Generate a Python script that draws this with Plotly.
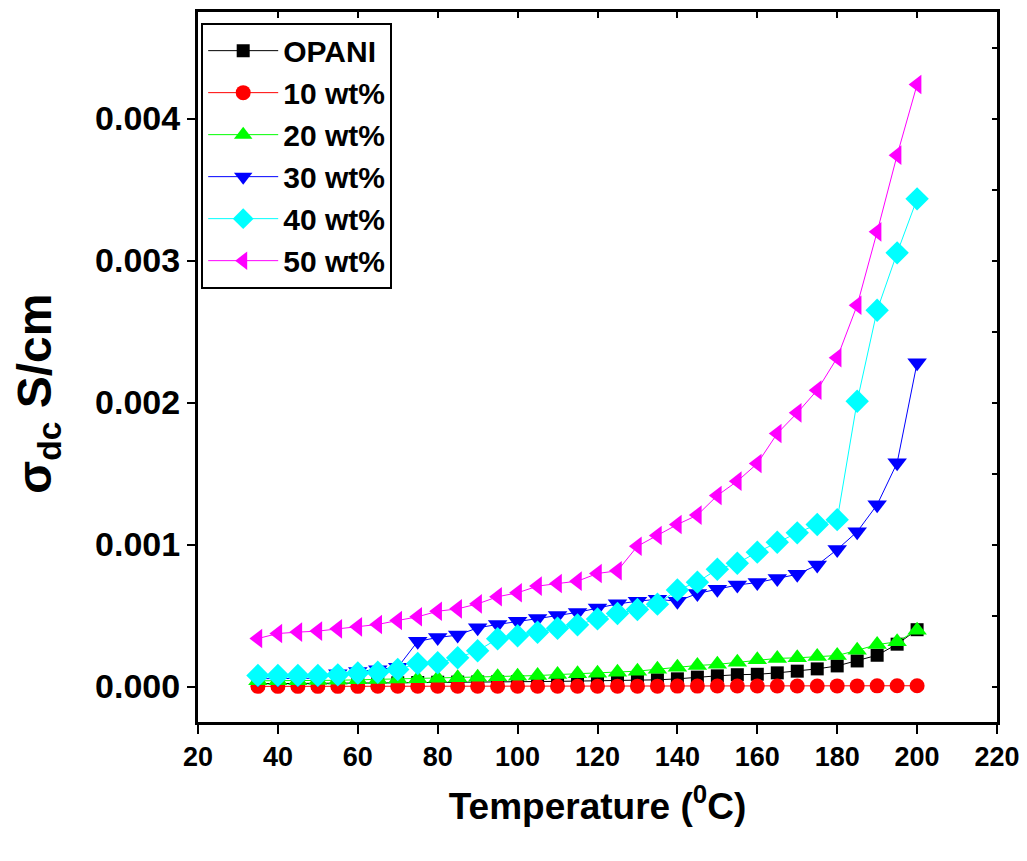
import plotly.graph_objects as go

temperature = [35, 40, 45, 50, 55, 60, 65, 70, 75, 80, 85, 90, 95, 100, 105, 110, 115,
               120, 125, 130, 135, 140, 145, 150, 155, 160, 165, 170, 175, 180, 185, 190, 195, 200]

opani = [2.0e-5, 2.0e-5, 2.0e-5, 2.1e-5, 2.2e-5, 2.3e-5, 2.5e-5, 2.6e-5, 2.8e-5, 3.0e-5,
         3.1e-5, 3.2e-5, 3.3e-5, 3.4e-5, 3.5e-5, 3.6e-5, 3.8e-5, 4.0e-5, 4.2e-5, 4.4e-5,
         4.7e-5, 5.4e-5, 6.6e-5, 7.5e-5, 8.3e-5, 8.6e-5, 9.6e-5, 1.08e-4, 1.24e-4, 1.45e-4,
         1.8e-4, 2.2e-4, 2.98e-4, 4.0e-4]

wt10 = [1.0e-6, 1.0e-6, 1.1e-6, 1.1e-6, 1.2e-6, 1.2e-6, 1.3e-6, 1.3e-6, 1.4e-6, 1.5e-6,
        1.5e-6, 1.6e-6, 1.7e-6, 1.8e-6, 1.9e-6, 2.0e-6, 2.1e-6, 2.2e-6, 2.3e-6, 2.4e-6,
        2.5e-6, 2.7e-6, 2.8e-6, 3.0e-6, 3.1e-6, 3.3e-6, 3.5e-6, 3.7e-6, 3.9e-6, 4.1e-6,
        4.4e-6, 4.7e-6, 5.0e-6, 5.3e-6]

wt20 = [4.0e-5, 4.0e-5, 4.1e-5, 4.2e-5, 4.4e-5, 4.7e-5, 5.0e-5, 5.2e-5, 5.5e-5, 5.8e-5,
        6.1e-5, 6.6e-5, 6.8e-5, 7.2e-5, 7.7e-5, 8.4e-5, 9.0e-5, 9.3e-5, 1.0e-4, 1.08e-4,
        1.22e-4, 1.36e-4, 1.48e-4, 1.56e-4, 1.70e-4, 1.88e-4, 1.98e-4, 2.02e-4, 2.12e-4, 2.18e-4,
        2.55e-4, 2.95e-4, 3.15e-4, 3.97e-4]

wt30 = [5.5e-5, 5.5e-5, 5.6e-5, 5.8e-5, 9.0e-5, 1.05e-4, 1.18e-4, 1.35e-4, 3.18e-4, 3.45e-4,
        3.62e-4, 4.13e-4, 4.37e-4, 4.6e-4, 4.78e-4, 5.0e-4, 5.22e-4, 5.52e-4, 5.82e-4, 6.0e-4,
        6.15e-4, 6.0e-4, 6.55e-4, 6.85e-4, 7.15e-4, 7.32e-4, 7.6e-4, 7.9e-4, 8.55e-4, 9.65e-4,
        1.09e-3, 1.28e-3, 1.575e-3, 2.28e-3]

wt40 = [7.8e-5, 7.8e-5, 7.8e-5, 7.8e-5, 8.2e-5, 9.5e-5, 1.0e-4, 1.2e-4, 1.62e-4, 1.67e-4,
        2.02e-4, 2.52e-4, 3.36e-4, 3.57e-4, 3.82e-4, 4.1e-4, 4.34e-4, 4.76e-4, 5.14e-4, 5.42e-4,
        5.8e-4, 6.8e-4, 7.35e-4, 8.26e-4, 8.68e-4, 9.46e-4, 1.016e-3, 1.082e-3, 1.141e-3, 1.175e-3,
        2.009e-3, 2.65e-3, 3.054e-3, 3.434e-3]

wt50 = [3.38e-4, 3.73e-4, 3.83e-4, 3.9e-4, 4.06e-4, 4.2e-4, 4.37e-4, 4.65e-4, 4.91e-4, 5.3e-4,
        5.47e-4, 5.82e-4, 6.32e-4, 6.6e-4, 7.07e-4, 7.25e-4, 7.42e-4, 7.96e-4, 8.15e-4, 9.88e-4,
        1.063e-3, 1.141e-3, 1.207e-3, 1.345e-3, 1.446e-3, 1.57e-3, 1.782e-3, 1.927e-3, 2.087e-3, 2.315e-3,
        2.685e-3, 3.202e-3, 3.742e-3, 4.239e-3]

series_names = ["OPANI", "10 wt%", "20 wt%", "30 wt%", "40 wt%", "50 wt%"]
series_values = [opani, wt10, wt20, wt30, wt40, wt50]
colors = ["#000000", "#FF0000", "#00FF00", "#0000FF", "#00FFFF", "#FF00FF"]
symbols = ["square", "circle", "triangle-up", "triangle-down", "diamond", "triangle-left"]
sizes = [13, 15, 17, 17, 18, 17]

x_tick_vals = [20, 40, 60, 80, 100, 120, 140, 160, 180, 200, 220]
y_tick_vals = [0.000, 0.001, 0.002, 0.003, 0.004]

FONT = "Liberation Sans, Arial, sans-serif"

fig = go.Figure()
for name, vals, c, s, sz in zip(series_names, series_values, colors, symbols, sizes):
    fig.add_trace(go.Scatter(
        x=temperature, y=vals, name=name, mode="lines+markers",
        line=dict(color=c, width=1),
        marker=dict(symbol=s, color=c, size=sz, line=dict(width=0)),
    ))

# invisible companion trace so that the mirrored (inner-tick) axes are drawn
fig.add_trace(go.Scatter(x=temperature, y=opani, xaxis="x2", yaxis="y2",
                         mode="markers", marker=dict(opacity=0), showlegend=False,
                         hoverinfo="skip"))

fig.update_layout(
    width=1019, height=853,
    margin=dict(l=190, r=30, t=4, b=139),
    paper_bgcolor="white", plot_bgcolor="white",
    showlegend=True,
    legend=dict(
        x=0.004, y=0.985, xanchor="left", yanchor="top",
        bgcolor="white", bordercolor="black", borderwidth=2,
        font=dict(family=FONT, size=30, color="black", weight="bold"),
        itemwidth=70, tracegroupgap=0,
    ),
    xaxis=dict(
        range=[20, 220], tickvals=x_tick_vals, automargin=False,
        ticks="outside", ticklen=9, tickwidth=2, tickcolor="black",
        showline=True, linecolor="black", linewidth=3, mirror=True,
        showgrid=False, zeroline=False,
        tickfont=dict(family=FONT, size=27, color="black", weight="bold"),
        title=dict(text="Temperature (<sup>0</sup>C)", standoff=22,
                   font=dict(family=FONT, size=37, color="black", weight="bold")),
    ),
    yaxis=dict(
        range=[-0.00025, 0.00475], tickvals=y_tick_vals, tickformat=".3f", automargin=False,
        ticks="outside", ticklen=8, tickwidth=2, tickcolor="black",
        showline=True, linecolor="black", linewidth=3, mirror=True,
        showgrid=False, zeroline=False,
        tickfont=dict(family=FONT, size=34, color="black", weight="bold"),
        title=dict(text="σ<sub>dc</sub> S/cm\u00a0\u00a0\u00a0\u00a0\u200b", standoff=34,
                   font=dict(family=FONT, size=48, color="black", weight="bold")),
    ),
    xaxis2=dict(
        overlaying="x", side="top", anchor="y", range=[20, 220], dtick=20, tick0=20,
        ticks="inside", ticklen=6, tickwidth=2, tickcolor="black", automargin=False,
        showticklabels=False, showgrid=False, zeroline=False, showline=False,
    ),
    yaxis2=dict(
        overlaying="y", side="right", anchor="x", range=[-0.00025, 0.00475],
        dtick=0.0005, tick0=0, automargin=False,
        ticks="inside", ticklen=5, tickwidth=2, tickcolor="black",
        showticklabels=False, showgrid=False, zeroline=False, showline=False,
    ),
)

fig.write_html("out.html")
